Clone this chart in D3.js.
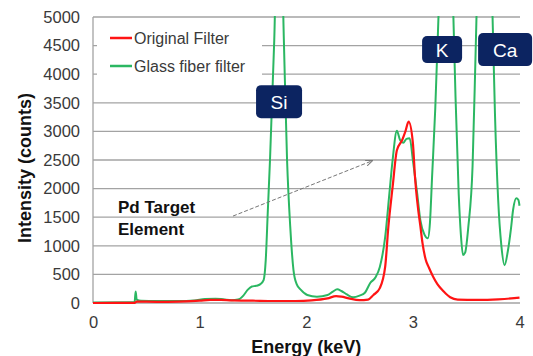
<!DOCTYPE html>
<html><head><meta charset="utf-8">
<script src="https://cdn.jsdelivr.net/npm/d3@7"></script>
<style>html,body{margin:0;padding:0;background:#fff;}svg{display:block;font-family:"Liberation Sans",Arial,sans-serif;}</style>
</head><body>
<svg id="c" width="533" height="356"></svg>
<script>
// ---- data ----
const yTicks = [0, 500, 1000, 1500, 2000, 2500, 3000, 3500, 4000, 4500, 5000];
const xTicks = [0, 1, 2, 3, 4];

const glassEnergy = [0.00,0.38,0.39,0.40,0.41,0.45,0.60,0.80,0.95,1.05,1.15,1.22,1.30,1.36,1.41,1.45,1.49,1.53,1.57,1.60,1.62,1.64,1.66,1.70,1.745,1.79,1.82,1.85,1.88,1.91,1.95,2.01,2.10,2.20,2.25,2.29,2.33,2.38,2.44,2.50,2.55,2.60,2.65,2.69,2.74,2.78,2.81,2.85,2.88,2.91,2.94,2.97,3.00,3.04,3.07,3.11,3.14,3.16,3.18,3.21,3.24,3.31,3.38,3.40,3.43,3.45,3.47,3.49,3.52,3.56,3.59,3.67,3.75,3.77,3.80,3.83,3.86,3.89,3.92,3.94,3.97,3.99,4.00];
const glassCounts = [10,12,15,200,60,40,35,35,45,70,75,65,50,60,130,230,290,300,330,400,750,1630,2500,4600,8000,4600,2500,1330,580,330,230,140,110,140,200,240,210,150,100,130,180,350,450,630,1150,1920,2500,3010,2850,2800,2870,2880,2500,1920,1450,1190,1130,1400,2200,3400,5000,9000,5000,3600,1900,1200,840,880,1330,2400,4500,10000,4800,3300,1800,1000,660,900,1300,1630,1830,1800,1700];

const origEnergy = [0.00,0.39,0.41,0.60,0.80,1.00,1.10,1.20,1.30,1.50,1.70,1.90,2.05,2.20,2.28,2.33,2.40,2.50,2.58,2.63,2.69,2.74,2.77,2.81,2.85,2.90,2.93,2.96,3.00,3.02,3.05,3.07,3.09,3.12,3.15,3.19,3.23,3.29,3.35,3.42,3.60,3.80,3.95,4.00];
const origCounts = [0,2,25,20,25,40,55,55,45,40,35,35,45,80,120,110,80,50,60,140,260,630,1330,2030,2670,2850,3000,3170,2800,2200,1630,1350,1050,760,620,460,330,200,100,60,55,65,85,95];

const seriesNames = ["Original Filter", "Glass fiber filter"];
const seriesColors = ["#ff1414", "#2bb762"];

// element labels: [text, energy, counts]
const elementLabels = [["Si", 1.745, 3520], ["K", 3.274, 4430], ["Ca", 3.865, 4430]];
const labelSizes = [[46, 33], [40, 27], [54, 33]];
// annotation arrow: from [energy, counts] to [energy, counts]
const arrowFrom = [1.313, 1520];
const arrowTo = [2.617, 2485];
const annotationLines = ["Pd Target", "Element"];

// ---- layout ----
const svg = d3.select("#c");
const m = {left: 93, right: 13.5, top: 17, bottom: 53};
const W = 533, H = 356;
const x = d3.scaleLinear().domain([0, 4]).range([m.left, W - m.right]);
const y = d3.scaleLinear().domain([0, 5000]).range([H - m.bottom, m.top]);

svg.append("defs").append("clipPath").attr("id", "clip")
  .append("rect").attr("x", m.left).attr("y", m.top - 1).attr("width", W - m.right - m.left + 2).attr("height", H - m.bottom - m.top + 2);

// gridlines
svg.append("g").selectAll("line").data(yTicks).join("line")
  .attr("x1", m.left).attr("x2", x(4) + 0.5)
  .attr("y1", d => y(d)).attr("y2", d => y(d))
  .attr("stroke", "#a3a3a3").attr("stroke-width", 1.3);

// y axis line
svg.append("line").attr("x1", m.left).attr("x2", m.left).attr("y1", y(5000)).attr("y2", y(0))
  .attr("stroke", "#a3a3a3").attr("stroke-width", 1.3);

// y tick labels
const yAxis = d3.axisLeft(y).tickValues(yTicks).tickSize(0).tickPadding(13).tickFormat(d3.format("d"));
const gy = svg.append("g").attr("transform", `translate(${m.left},0)`).call(yAxis);
gy.select(".domain").remove();
gy.selectAll("text").attr("font-size", 16.5).attr("fill", "#3a3a3a").attr("font-family", "Liberation Sans, Arial, sans-serif");

// x tick labels
const xAxis = d3.axisBottom(x).tickValues(xTicks).tickSize(0).tickPadding(13).tickFormat(d3.format("d"));
const gx = svg.append("g").attr("transform", `translate(0,${y(0)})`).call(xAxis);
gx.select(".domain").remove();
gx.selectAll("text").attr("font-size", 16.5).attr("fill", "#3a3a3a").attr("font-family", "Liberation Sans, Arial, sans-serif");

// axis titles
svg.append("text").attr("x", (x(0) + x(4)) / 2).attr("y", 353).attr("text-anchor", "middle")
  .attr("font-size", 18).attr("font-weight", "bold").attr("fill", "#111").text("Energy (keV)");
svg.append("text").attr("transform", `translate(31,${(y(0) + y(5000)) / 2 + 8}) rotate(-90)`).attr("text-anchor", "middle")
  .attr("font-size", 18).attr("font-weight", "bold").attr("fill", "#111").text("Intensity (counts)");

// legend background (covers gridlines)
const lg = svg.append("g");
lg.append("rect").attr("x", 97).attr("y", 27).attr("width", 165).attr("height", 52).attr("fill", "#fff");
[0, 1].forEach(i => {
  const yy = 38 + i * 28;
  lg.append("line").attr("x1", 110).attr("x2", 132).attr("y1", yy).attr("y2", yy)
    .attr("stroke", seriesColors[i]).attr("stroke-width", 2.5);
  lg.append("text").attr("x", 134).attr("y", yy + 5.5).attr("font-size", 16).attr("fill", "#3a3a3a").text(seriesNames[i]);
});

// lines
const line = d3.line().x(d => x(d[0])).y(d => y(d[1])).curve(d3.curveMonotoneX);
const plot = svg.append("g").attr("clip-path", "url(#clip)");
plot.append("path").datum(d3.zip(glassEnergy, glassCounts)).attr("d", line)
  .attr("fill", "none").attr("stroke", seriesColors[1]).attr("stroke-width", 2);
plot.append("path").datum(d3.zip(origEnergy, origCounts)).attr("d", line)
  .attr("fill", "none").attr("stroke", seriesColors[0]).attr("stroke-width", 2.2);

// annotation arrow
svg.append("defs").append("marker").attr("id", "ah").attr("viewBox", "0 0 10 10")
  .attr("refX", 9).attr("refY", 5).attr("markerWidth", 7).attr("markerHeight", 7).attr("orient", "auto")
  .append("path").attr("d", "M0,1 L10,5 L0,9").attr("fill", "none").attr("stroke", "#777").attr("stroke-width", 1.5);
svg.append("line").attr("x1", x(arrowFrom[0])).attr("y1", y(arrowFrom[1]))
  .attr("x2", x(arrowTo[0])).attr("y2", y(arrowTo[1]))
  .attr("stroke", "#777").attr("stroke-width", 1).attr("stroke-dasharray", "4,2").attr("marker-end", "url(#ah)");
annotationLines.forEach((t, i) => {
  svg.append("text").attr("x", 118).attr("y", 212.5 + i * 22.5).attr("font-size", 17).attr("font-weight", "bold")
    .attr("fill", "#111").text(t);
});

// element labels
elementLabels.forEach((l, i) => {
  const cx = x(l[1]), cy = y(l[2]);
  const [w, h] = labelSizes[i];
  svg.append("rect").attr("x", cx - w / 2).attr("y", cy - h / 2).attr("width", w).attr("height", h)
    .attr("rx", 5).attr("fill", "#0c2461");
  svg.append("text").attr("x", cx).attr("y", cy + 7).attr("text-anchor", "middle")
    .attr("font-size", 19).attr("fill", "#fff").text(l[0]);
});
</script>
</body></html>
